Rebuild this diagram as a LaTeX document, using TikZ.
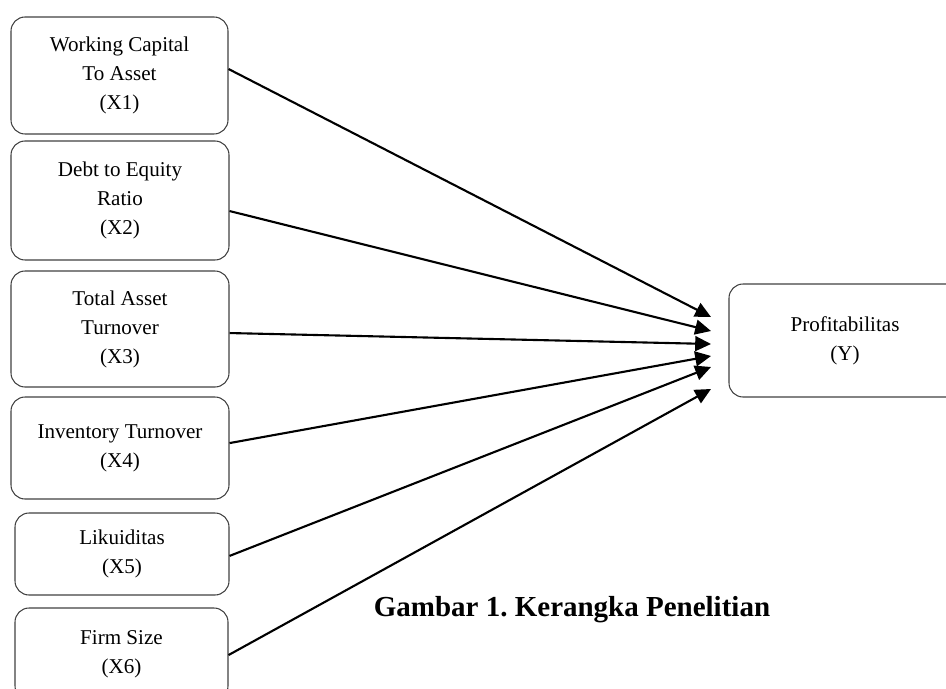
\documentclass[tikz,border=0pt]{standalone}
\usepackage{fontspec}
\setmainfont{Liberation Serif}
\usetikzlibrary{arrows.meta}

\tikzset{
	varbox/.style={draw=black!75, line width=0.6pt, rounded corners=8pt, align=center,
		font=\fontsize{12}{16.5}\selectfont, inner sep=0pt},
	link/.style={line width=1.2pt, -{Triangle[length=9pt, width=8.5pt]}}
}

\begin{document}
\begin{tikzpicture}[x=0.02cm, y=-0.02cm]

\path [use as bounding box] (0,0) rectangle (946,689);

% VARIABLES
\node [varbox, minimum width=217*0.02cm, minimum height=117*0.02cm] (x1) at (119.5,75.5) {Working Capital\\To Asset\\(X1)};
\node [varbox, minimum width=218*0.02cm, minimum height=119*0.02cm] (x2) at (120,200.5) {Debt to Equity\\Ratio\\(X2)};
\node [varbox, minimum width=218*0.02cm, minimum height=116*0.02cm] (x3) at (120,329) {Total Asset\\Turnover\\(X3)};
\node [varbox, minimum width=218*0.02cm, minimum height=102*0.02cm] (x4) at (120,448) {Inventory Turnover\\(X4)};
\node [varbox, minimum width=214*0.02cm, minimum height=82*0.02cm] (x5) at (122,554) {Likuiditas\\(X5)};
\node [varbox, minimum width=213*0.02cm, minimum height=92*0.02cm] (x6) at (121.5,654) {Firm Size\\(X6)};

% TARGET
\node [varbox, minimum width=232*0.02cm, minimum height=113*0.02cm] (prof) at (845,340.5) {Profitabilitas\\(Y)};

% ARROW TIPS
\coordinate (t1) at (711,317);
\coordinate (t2) at (711,331);
\coordinate (t3) at (711,344);
\coordinate (t4) at (711,356);
\coordinate (t5) at (711,367);
\coordinate (t6) at (711,389);

% ARROWS
\draw [link] ([yshift=3.7pt]x1.east) -- (t1);
\draw [link] ([yshift=-6pt]x2.east) -- (t2);
\draw [link] ([yshift=-2.3pt]x3.east) -- (t3);
\draw [link] ([yshift=2.8pt]x4.east) -- (t4);
\draw [link] ([yshift=-1.1pt]x5.east) -- (t5);
\draw [link] ([yshift=-0.6pt]x6.east) -- (t6);

% NOTE
\node [font=\fontsize{16.5}{20}\selectfont\bfseries] (caption) at (572,610) {Gambar 1.\ Kerangka Penelitian};

\end{tikzpicture}
\end{document}
